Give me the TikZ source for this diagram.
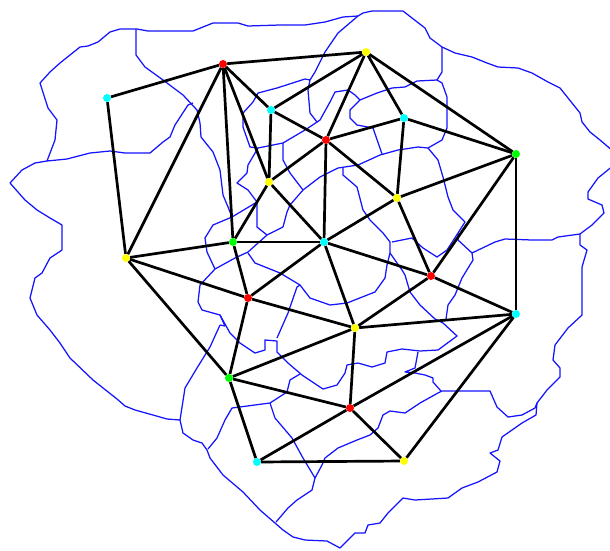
\documentclass[tikz,border=0pt]{standalone}
\definecolor{sitecyan}{RGB}{0,255,255}
\definecolor{sitegreen}{RGB}{0,255,0}
\definecolor{siteyellow}{RGB}{255,255,0}
\definecolor{sitered}{RGB}{255,0,0}
\definecolor{borderblue}{RGB}{20,20,255}
\tikzset{
  border/.style={borderblue, line width=1.25pt, line join=round},
  link/.style={black, line width=2.7pt},
  site/.style={circle, inner sep=0pt, minimum size=8pt},
}

\begin{document}
\begin{tikzpicture}[x=1pt, y=-1pt]
  \useasboundingbox (0,0) rectangle (610,550);
  \clip (0,0) rectangle (610,550);

  % outer boundary
  \draw[border] (47,161) -- (55,140) -- (57,120) -- (48,108) -- (40,83) -- (50,72) -- (60,63) -- (70,55) -- (80,47) -- (88,46) -- (98,42) -- (110,32) -- (120,29) -- (137,29) -- (148,31) -- (193,31) -- (203,27) -- (213,23) -- (238,23) -- (248,26) -- (280,25) -- (305,25) -- (325,22) -- (343,17) -- (358,16) -- (363,13) -- (372,11) -- (403,11) -- (412,18) -- (425,28) -- (430,38) -- (442,47) -- (455,53) -- (472,57) -- (487,63) -- (498,67) -- (518,68) -- (532,73) -- (548,82) -- (560,88) -- (572,103) -- (580,113) -- (582,122) -- (590,132) -- (600,140) -- (614,152) -- (614,165) -- (598,178) -- (588,192) -- (588,199) -- (602,205) -- (604,213) -- (592,225) -- (580,234) -- (580,245) -- (587,250) -- (582,267) -- (582,285) -- (582,315) -- (568,328) -- (555,345) -- (553,360) -- (560,368) -- (560,377) -- (547,390) -- (537,403) -- (536,415) -- (522,423) -- (502,437) -- (498,450) -- (490,453) -- (500,461) -- (497,472) -- (478,482) -- (462,488) -- (448,498) -- (415,500) -- (403,498) -- (388,513) -- (380,523) -- (368,525) -- (365,533) -- (355,533) -- (340,548) -- (327,541) -- (305,540) -- (293,537) -- (283,530) -- (275,523) -- (260,510) -- (243,492) -- (223,475) -- (210,458) -- (207,450) -- (202,443) -- (193,440) -- (183,433) -- (180,420) -- (167,419) -- (153,415) -- (135,410) -- (125,406) -- (117,399) -- (93,380) -- (70,358) -- (60,343) -- (50,330) -- (37,315) -- (30,298) -- (35,278) -- (42,273) -- (50,258) -- (62,250) -- (62,225) -- (50,218) -- (37,210) -- (25,200) -- (10,183) -- (22,170) -- (35,163) -- (47,161) -- (67,159) -- (90,153) -- (110,151) -- (125,153) -- (150,153) -- (163,142) -- (170,137) -- (175,125) -- (188,105) -- (193,103);

  % inner boundaries
  \draw[border] (136,29) -- (136,55) -- (145,67) -- (163,80) -- (183,95) -- (197,110) -- (200,123) -- (201,137) -- (213,152) -- (220,170) -- (223,195) -- (228,207) -- (232,217);
  \draw[border] (283,227) -- (267,235) -- (248,252) -- (235,258) -- (215,269) -- (200,285) -- (198,302) -- (202,310) -- (220,315) -- (230,333) -- (240,343) -- (255,353) -- (265,350) -- (265,340) -- (277,341) -- (277,352) -- (288,363) -- (302,375) -- (323,389) -- (337,385) -- (345,373) -- (347,365) -- (358,363) -- (372,367) -- (385,363) -- (387,352) -- (402,349) -- (420,351) -- (438,350) -- (457,336) -- (443,323) -- (435,319) -- (420,305) -- (410,292) -- (405,275) -- (402,270) -- (390,253) -- (390,242) -- (383,233) -- (370,220) -- (363,210) -- (357,187) -- (343,175) -- (343,168);
  \draw[border] (358,16) -- (338,33) -- (325,52) -- (315,72) -- (310,80) -- (308,90) -- (310,113) -- (317,122) -- (305,130) -- (283,143) -- (258,148) -- (250,147) -- (243,127) -- (243,113) -- (253,102) -- (258,93) -- (277,88) -- (305,79) -- (310,80);
  \draw[border] (258,148) -- (248,165) -- (247,173) -- (237,183) -- (248,190) -- (257,202) -- (257,227) -- (267,235);
  \draw[border] (257,202) -- (232,217) -- (213,225) -- (205,238) -- (207,252) -- (215,269);
  \draw[border] (283,143) -- (283,160) -- (290,173) -- (303,190) -- (290,205) -- (287,212) -- (283,227);
  \draw[border] (248,253) -- (255,263) -- (280,273) -- (300,285) -- (310,298) -- (330,305) -- (347,303) -- (375,292) -- (385,278) -- (387,265) -- (390,253);
  \draw[border] (303,190) -- (320,177) -- (338,168) -- (358,165) -- (380,155) -- (398,150) -- (418,147) -- (428,148) -- (442,140) -- (447,128) -- (447,97) -- (442,83) -- (437,80) -- (442,72) -- (442,47);
  \draw[border] (437,80) -- (417,81) -- (405,87) -- (392,88) -- (377,93) -- (360,100) -- (350,110) -- (350,118) -- (357,125) -- (373,128) -- (382,154);
  \draw[border] (360,100) -- (355,95) -- (348,90) -- (335,92) -- (330,102) -- (320,120) -- (317,122);
  \draw[border] (428,148) -- (438,160) -- (443,177) -- (448,197) -- (453,210) -- (465,222) -- (458,233) -- (447,250) -- (437,257) -- (423,248) -- (412,238) -- (392,242);
  \draw[border] (458,233) -- (458,240) -- (472,253) -- (473,260) -- (462,278) -- (455,295) -- (448,305) -- (446,319);
  \draw[border] (472,253) -- (495,242) -- (505,239) -- (532,240) -- (552,240) -- (558,237) -- (580,234);
  \draw[border] (300,285) -- (297,287) -- (288,313) -- (277,338);
  \draw[border] (220,325) -- (225,326) -- (220,315);
  \draw[border] (220,325) -- (210,347) -- (197,368) -- (185,388) -- (180,420);
  \draw[border] (300,374) -- (290,380) -- (287,392) -- (270,403) -- (232,408) -- (225,420) -- (217,438) -- (208,449);
  \draw[border] (270,403) -- (275,418) -- (292,438) -- (303,458) -- (312,473) -- (315,478) -- (312,490) -- (297,500) -- (288,508) -- (276,522);
  \draw[border] (315,478) -- (322,465) -- (325,458) -- (338,448) -- (357,440) -- (370,435) -- (378,428) -- (383,415) -- (390,411) -- (405,413) -- (420,403) -- (438,393) -- (442,391) -- (490,391) -- (497,407) -- (508,417) -- (522,415) -- (535,408) -- (537,403);
  \draw[border] (441,391) -- (433,382) -- (433,378) -- (425,375) -- (415,373) -- (405,372) -- (415,368) -- (418,352);

  % sites
  \node[site, fill=sitecyan]   (wa) at (107,98)  {};
  \node[site, fill=sitered]    (nw) at (223,64)  {};
  \node[site, fill=siteyellow] (nn) at (366,52)  {};
  \node[site, fill=sitecyan]   (nc) at (271,110) {};
  \node[site, fill=sitecyan]   (ne) at (404,118) {};
  \node[site, fill=sitered]    (cn) at (326,140) {};
  \node[site, fill=sitegreen]  (ea) at (516,154) {};
  \node[site, fill=siteyellow] (cw) at (269,182) {};
  \node[site, fill=siteyellow] (ce) at (397,198) {};
  \node[site, fill=siteyellow] (we) at (126,258) {};
  \node[site, fill=sitegreen]  (mw) at (233,242) {};
  \node[site, fill=sitecyan]   (mm) at (324,242) {};
  \node[site, fill=sitered]    (me) at (431,276) {};
  \node[site, fill=sitered]    (lw) at (248,298) {};
  \node[site, fill=sitecyan]   (se) at (516,314) {};
  \node[site, fill=siteyellow] (lm) at (355,328) {};
  \node[site, fill=sitegreen]  (sw) at (229,378) {};
  \node[site, fill=sitered]    (sm) at (350,408) {};
  \node[site, fill=sitecyan]   (bl) at (257,462) {};
  \node[site, fill=siteyellow] (br) at (404,461) {};

  % links
  \foreach \a/\b in {wa/nw, wa/we, nw/nn, nw/we, nw/mw, nw/cw, nw/nc, nc/nn, nc/cw, nc/cn,
      nn/cn, nn/ne, nn/ea, ne/cn, ne/ea, ne/ce, cn/cw, cn/mm, cn/ce, ea/ce, ea/me, ea/se,
      cw/mw, cw/mm, ce/mm, ce/me, we/mw, mw/mm, we/lw, we/sw, mw/lw, mm/lw, mm/me, mm/lm,
      me/se, me/lm, lw/lm, lw/sw, lm/se, lm/sw, lm/sm, se/sm, se/br, sw/sm, sw/bl, sm/bl,
      sm/br, bl/br}
    \draw[link] (\a) -- (\b);
\end{tikzpicture}
\end{document}
